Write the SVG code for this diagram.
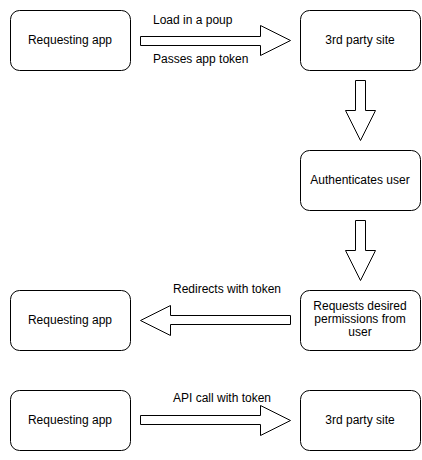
<svg xmlns="http://www.w3.org/2000/svg" width="422" height="460" viewBox="0 0 422 460">
<style>
.box{fill:#fff;stroke:#000;stroke-width:1}
.arr{fill:#fff;stroke:#000;stroke-width:1}
text{font-family:"Liberation Sans",Arial,sans-serif;font-size:12px;fill:#000}
.c{text-anchor:middle}
</style>
<rect width="422" height="460" fill="#fff"/>
<g id="connectors">
<polygon class="arr" points="140.5,36.5 260.5,36.5 260.5,25.5 290.5,40.5 260.5,55.5 260.5,45.5 140.5,45.5"/>
<polygon class="arr" points="355.5,80.5 365.5,80.5 365.5,110.5 375.5,110.5 360.5,140.5 345.5,110.5 355.5,110.5"/>
<polygon class="arr" points="355.5,220.5 365.5,220.5 365.5,250.5 375.5,250.5 360.5,280.5 345.5,250.5 355.5,250.5"/>
<polygon class="arr" points="290.5,315.5 170.5,315.5 170.5,305.5 140.5,320.5 170.5,335.5 170.5,324.5 290.5,324.5"/>
<polygon class="arr" points="140.5,415.5 260.5,415.5 260.5,405.5 290.5,420.5 260.5,435.5 260.5,424.5 140.5,424.5"/>
<text x="153" y="24">Load in a poup</text>
<text x="153" y="63">Passes app token</text>
<text x="173" y="293">Redirects with token</text>
<text x="173" y="402">API call with token</text>
</g>
<g id="app1"><rect class="box" x="10.5" y="10.5" width="120" height="60" rx="9"/><text class="c" x="70" y="44">Requesting app</text></g>
<g id="site1"><rect class="box" x="300.5" y="10.5" width="120" height="60" rx="9"/><text class="c" x="360" y="44">3rd party site</text></g>
<g id="auth"><rect class="box" x="300.5" y="150.5" width="120" height="60" rx="9"/><text class="c" x="360" y="184">Authenticates user</text></g>
<g id="perm"><rect class="box" x="300.5" y="290.5" width="120" height="60" rx="9"/><text class="c" x="360" y="310">Requests desired</text><text class="c" x="360" y="323">permissions from</text><text class="c" x="360" y="336">user</text></g>
<g id="app2"><rect class="box" x="10.5" y="290.5" width="120" height="60" rx="9"/><text class="c" x="70" y="324">Requesting app</text></g>
<g id="app3"><rect class="box" x="10.5" y="390.5" width="120" height="60" rx="9"/><text class="c" x="70" y="424">Requesting app</text></g>
<g id="site2"><rect class="box" x="300.5" y="390.5" width="120" height="60" rx="9"/><text class="c" x="360" y="424">3rd party site</text></g>
</svg>
